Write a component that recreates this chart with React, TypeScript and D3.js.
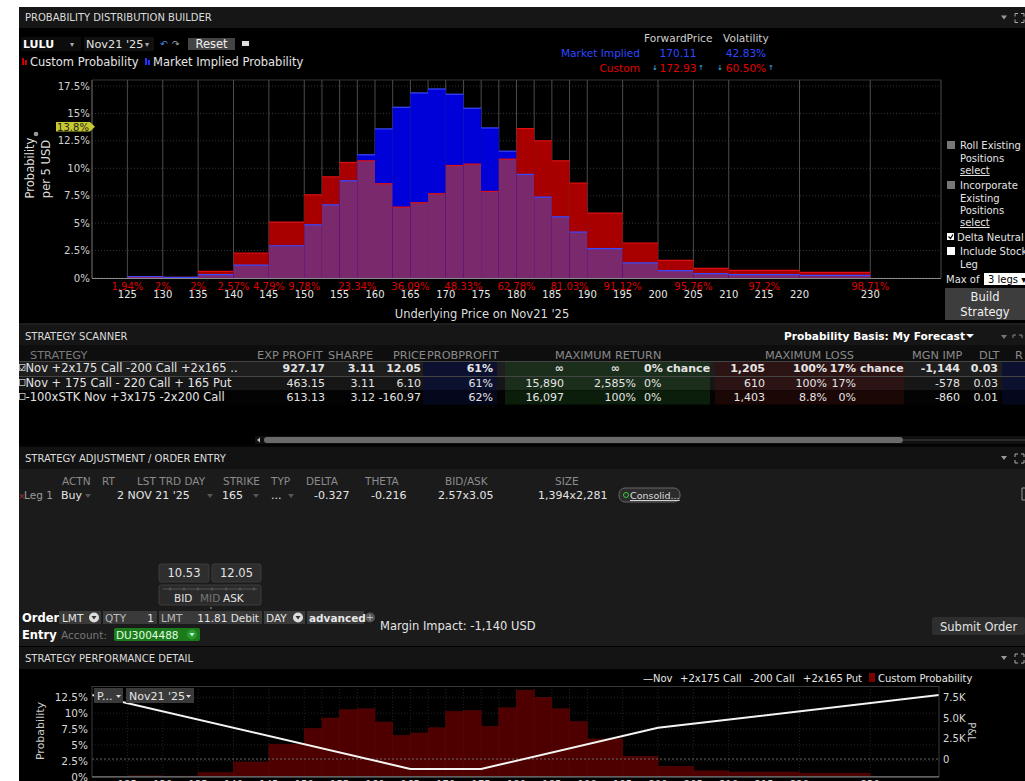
import React from 'react'
import * as d3 from 'd3'

// probability histogram bins (USD edges), per 5 USD
const binEdges = [125, 130, 135, 140, 145, 150, 152.5, 155, 157.5, 160, 162.5, 165, 167.5, 170, 172.5, 175, 177.5, 180, 182.5, 185, 187.5, 190, 195, 200, 205, 210, 220, 230]
const customProb = [0.1, 0.05, 0.6, 2.28, 5.1, 7.58, 9.22, 10.53, 10.68, 8.59, 6.46, 6.86, 7.68, 10.25, 10.38, 7.89, 10.83, 13.62, 12.5, 10.68, 8.65, 5.92, 3.19, 1.61, 0.88, 0.7, 0.52]
const marketProb = [0.12, 0.06, 0.3, 1.18, 2.94, 4.85, 6.67, 8.86, 11.23, 13.59, 15.56, 16.87, 17.23, 16.75, 15.47, 13.68, 11.56, 9.44, 7.37, 5.58, 4.19, 2.67, 1.37, 0.67, 0.39, 0.3, 0.24]

const priceTicks = [125, 130, 135, 140, 145, 150, 155, 160, 165, 170, 175, 180, 185, 190, 195, 200, 205, 210, 215, 220, 230]
const cumPrices = [125, 130, 135, 140, 145, 150, 157.5, 165, 172.5, 180, 187.5, 195, 205, 215, 230]
const cumLabels = ['1.94%', '2%', '2%', '2.57%', '4.79%', '9.78%', '23.34%', '36.09%', '48.33%', '62.78%', '81.03%', '91.12%', '95.76%', '97.2%', '98.71%']
const probTicks = [0, 2.5, 5, 7.5, 10, 12.5, 15, 17.5]

// P&L at expiry of the selected strategy (kink points)
const pnlPrices = [120, 165, 175, 200, 240]
const pnlValues = [7795, -1205, -1205, 3795, 7795]
const pnlTicks = [0, 2500, 5000, 7500]
const pnlTickLabels = ['0', '2.5K', '5.0K', '7.5K']
const perfProbTicks = [0, 2.5, 5, 7.5, 10, 12.5]
const legendLegs = ['—Nov', '+2x175 Call', '-200 Call', '+2x165 Put']

// strategy scanner rows
const strategies = ['Nov +2x175 Call -200 Call +2x165 ..', 'Nov + 175 Call - 220 Call + 165 Put', '-100xSTK Nov +3x175 -2x200 Call']
const expProfit = ['927.17', '463.15', '613.13']
const sharpe = ['3.11', '3.11', '3.12']
const prices = ['12.05', '6.10', '-160.97']
const probProfit = ['61%', '61%', '62%']
const maxRet = ['∞', '15,890', '16,097']
const maxRetPct = ['∞', '2,585%', '100%']
const retChance = ['0%', '0%', '0%']
const maxLoss = ['1,205', '610', '1,403']
const maxLossPct = ['100%', '100%', '8.8%']
const lossChance = ['17%', '17%', '0%']
const mgnImp = ['-1,144', '-578', '-860']
const dlt = ['0.03', '0.03', '0.01']

const FONT = "'DejaVu Sans', Verdana, sans-serif"

function T({ x, y, children, size = 11.5, fill = '#e4e4e4', anchor = 'start', bold = false, ...rest }: any) {
  return (
    <text x={x} y={y} fontSize={size} fill={fill} textAnchor={anchor} fontWeight={bold ? 'bold' : 'normal'} fontFamily={FONT} {...rest}>
      {children}
    </text>
  )
}

function HeadIcons({ y }: any) {
  return (
    <g>
      <path d={`M1001,${y - 2} L1007,${y - 2} L1004,${y + 2} Z`} fill="#999" />
      <path d={`M1015,${y - 1} V${y - 4} H1018 M1021,${y - 4} H1024 V${y - 1} M1024,${y + 2} V${y + 5} H1021 M1018,${y + 5} H1015 V${y + 2}`} stroke="#aaa" fill="none" strokeWidth={1} />
    </g>
  )
}

function Header({ y, h, title, fill = '#161616' }: any) {
  return (
    <g>
      <rect x={19} y={y} width={1006} height={h} fill={fill} />
      <T x={25} y={y + h / 2 + 3.5} size={10} fill="#dcdcdc">{title}</T>
      <HeadIcons y={y + h / 2} />
    </g>
  )
}

export default function App() {
  const x = d3.scaleLinear().domain([120, 240]).range([92, 941])
  const y = d3.scaleLinear().domain([0, 17.5]).range([278, 86])
  const bins = customProb.map((c, i) => ({ lo: binEdges[i], hi: binEdges[i + 1], c, m: marketProb[i] }))

  const yP = d3.scaleLinear().domain([0, 12.5]).range([776.5, 697.3])
  const yL = d3.scaleLinear().domain([0, 7500]).range([759, 697.3])
  const pnlPath = d3.line<number>().x((_, i) => x(pnlPrices[i])).y(d => yL(d))(pnlValues) || ''

  const rowY = [372, 387, 401]
  const legendX = [643, 680, 750, 803]

  return (
    <svg width={1025} height={781} style={{ position: 'absolute', left: 0, top: 0 }} fontFamily={FONT}>
      <rect x={0} y={0} width={1025} height={781} fill="#fff" />

      {/* ---------- PROBABILITY DISTRIBUTION BUILDER ---------- */}
      <rect x={19} y={7} width={1006} height={316} fill="#000" />
      <Header y={7} h={21} title="PROBABILITY DISTRIBUTION BUILDER" />

      <rect x={21} y={37} width={60} height={14} fill="#0c0c0c" />
      <T x={23} y={48} size={11} bold fill="#fff">LULU</T>
      <T x={70} y={47} size={8} fill="#aaa">▾</T>
      <rect x={84} y={37} width={70} height={14} fill="#101010" />
      <T x={86} y={48} size={11.3}>Nov21 '25</T>
      <T x={145} y={47} size={8} fill="#aaa">▾</T>
      <T x={160} y={47} size={9} fill="#4a8ae8">↶</T>
      <T x={172} y={47} size={9} fill="#aaa">↷</T>
      <rect x={188} y={38} width={47} height={12} fill="#444" />
      <T x={211.5} y={48} size={11.5} anchor="middle" fill="#f0f0f0">Reset</T>
      <rect x={242} y={41} width={7} height={5} fill="#ddd" />

      <rect x={22} y={58} width={2} height={7} fill="#c00" />
      <rect x={25} y={60} width={2} height={5} fill="#c00" />
      <T x={30} y={66}>Custom Probability</T>
      <rect x={145} y={58} width={2} height={7} fill="#23f" />
      <rect x={148} y={60} width={2} height={5} fill="#23f" />
      <T x={153} y={66}>Market Implied Probability</T>

      <T x={644} y={42} size={10.6} fill="#cfcfcf">ForwardPrice</T>
      <T x={723} y={42} size={10.6} fill="#cfcfcf">Volatility</T>
      <T x={640} y={57} size={10.6} anchor="end" fill="#2f48ff">Market Implied</T>
      <T x={678} y={57} size={10.6} anchor="middle" fill="#2f48ff">170.11</T>
      <T x={746} y={57} size={10.6} anchor="middle" fill="#2f48ff">42.83%</T>
      <T x={640} y={72} size={10.6} anchor="end" fill="#e00000">Custom</T>
      <T x={678} y={72} size={10.6} anchor="middle" fill="#e00000">172.93</T>
      <T x={746} y={72} size={10.6} anchor="middle" fill="#e00000">60.50%</T>
      {[655, 701, 720, 771].map((cx, i) => (
        <text key={i} x={cx} y={70} fontSize={7} fill="#4ac0ff" textAnchor="middle" fontFamily={FONT}>{i % 2 ? '↑' : '↓'}</text>
      ))}

      {/* chart grid */}
      {probTicks.map(t => (
        <line key={t} x1={92} x2={941} y1={y(t)} y2={y(t)} stroke="#333" strokeDasharray="1,2" />
      ))}
      <line x1={92} x2={941} y1={80} y2={80} stroke="#333" />
      {[...binEdges, 240].map(e => (
        <line key={e} x1={x(e)} x2={x(e)} y1={80} y2={278} stroke="#4c4c4c" />
      ))}

      {/* bars */}
      {bins.map((b, i) => {
        const x0 = x(b.lo), w = x(b.hi) - x(b.lo)
        const lo = Math.min(b.c, b.m)
        return (
          <g key={i}>
            <rect x={x0} y={y(b.c)} width={w} height={y(0) - y(b.c)} fill="#a80000" />
            <rect x={x0} y={y(b.m)} width={w} height={y(0) - y(b.m)} fill="#0000d8" />
            <rect x={x0} y={y(lo)} width={w} height={y(0) - y(lo)} fill="#7a2a6c" />
            <line x1={x0} x2={x0 + w} y1={y(b.c)} y2={y(b.c)} stroke="#e01010" strokeWidth={1.2} />
            <line x1={x0} x2={x0 + w} y1={y(b.m)} y2={y(b.m)} stroke="#3a48ff" strokeWidth={1.2} />
          </g>
        )
      })}

      <line x1={92} x2={92} y1={80} y2={278} stroke="#777" />
      <line x1={92} x2={941} y1={278.5} y2={278.5} stroke="#8a8a8a" />
      {probTicks.map(t => (
        <T key={t} x={90} y={y(t) + 3.5} size={10.2} anchor="end" fill="#d0d0d0">{t + '%'}</T>
      ))}
      <polygon points="56,122 90,122 95,126.7 90,131.4 56,131.4" fill="#c8c830" />
      <T x={73} y={130.5} size={10} anchor="middle" fill="#222">13.8%</T>

      <g transform="translate(30,168) rotate(-90)">
        <T x={0} y={0} dy="0.35em" anchor="middle" fill="#ddd">Probability</T>
      </g>
      <g transform="translate(46,169) rotate(-90)">
        <T x={0} y={0} dy="0.35em" anchor="middle" fill="#ddd">per 5 USD</T>
      </g>
      <circle cx={36} cy={134} r={2.3} fill="#999" />

      {cumPrices.map((p, i) => (
        <T key={p} x={x(p)} y={289.5} size={10} anchor="middle" fill="#dd0000">{cumLabels[i]}</T>
      ))}
      {priceTicks.map(p => (
        <T key={p} x={x(p)} y={297.5} size={10} anchor="middle" fill="#e8e8e8">{p}</T>
      ))}
      <T x={482} y={318} size={11.5} anchor="middle" fill="#ddd">Underlying Price on Nov21 '25</T>

      {/* sidebar */}
      <rect x={947} y={141} width={8} height={8} fill="#777" />
      <T x={960} y={149} size={10}>Roll Existing</T>
      <T x={960} y={161.5} size={10}>Positions</T>
      <T x={960} y={174} size={10} textDecoration="underline">select</T>
      <rect x={947} y={181} width={8} height={8} fill="#777" />
      <T x={960} y={189} size={10}>Incorporate</T>
      <T x={960} y={201.5} size={10}>Existing</T>
      <T x={960} y={214} size={10}>Positions</T>
      <T x={960} y={226} size={10} textDecoration="underline">select</T>
      <rect x={947} y={233} width={7} height={7} fill="#fff" />
      <path d="M948.5,236.5 L950.5,238.5 L953,234.5" stroke="#000" fill="none" strokeWidth={1.2} />
      <T x={957} y={240.5} size={10}>Delta Neutral</T>
      <rect x={947} y={247} width={8} height={8} fill="#fff" />
      <T x={960} y={255} size={10}>Include Stock</T>
      <T x={960} y={268} size={10}>Leg</T>
      <T x={946} y={283} size={10}>Max of</T>
      <rect x={984} y={273} width={41} height={12} fill="#fff" />
      <T x={988} y={283} size={10} fill="#000">3 legs ▾</T>
      <rect x={945} y={288} width={80} height={32} fill="#3d3d3d" />
      <T x={985} y={301} size={11.5} anchor="middle" fill="#f0f0f0">Build</T>
      <T x={985} y={316} size={11.5} anchor="middle" fill="#f0f0f0">Strategy</T>

      {/* ---------- STRATEGY SCANNER ---------- */}
      <rect x={19} y={323} width={1006} height={2} fill="#1e1e1e" />
      <rect x={19} y={325} width={1006} height={121} fill="#000" />
      <rect x={19} y={325} width={1006} height={20} fill="#161616" />
      <T x={25} y={339.5} size={10} fill="#dcdcdc">STRATEGY SCANNER</T>
      <T x={784} y={340} size={10.6} bold fill="#fff">Probability Basis: My Forecast</T>
      <path d="M966,334 L974,334 L970,338 Z" fill="#fff" />
      <path d="M1001,335 L1007,335 L1004,339 Z" fill="#777" />
      <path d="M1013,338 V335 H1016 M1019,335 H1022 V338" stroke="#888" fill="none" />
      <rect x={19} y={345} width={1006} height={16} fill="#0e0e0e" />
      <T x={30} y={358.5} size={11.3} fill="#7a7a7a">STRATEGY</T>
      <T x={257} y={358.5} size={11.3} fill="#8a8a8a">EXP PROFIT</T>
      <T x={328} y={358.5} size={11.3} fill="#8a8a8a">SHARPE</T>
      <T x={426} y={358.5} size={11.3} anchor="end" fill="#8a8a8a">PRICE</T>
      <T x={427} y={358.5} size={11.3} fill="#8a8a8a">PROBPROFIT</T>
      <T x={555} y={358.5} size={11.3} fill="#8a8a8a">MAXIMUM RETURN</T>
      <T x={765} y={358.5} size={11.3} fill="#8a8a8a">MAXIMUM LOSS</T>
      <T x={912} y={358.5} size={11.3} fill="#8a8a8a">MGN IMP</T>
      <T x={979} y={358.5} size={11.3} fill="#8a8a8a">DLT</T>
      <T x={1015} y={358.5} size={11.3} fill="#8a8a8a">R</T>

      {strategies.map((s, i) => {
        const top = [361.5, 376.5, 390.5][i]
        const h = [15, 14, 14][i]
        const yb = rowY[i]
        const b = i === 0
        const dark = i === 2
        return (
          <g key={i}>
            <rect x={19} y={top} width={1006} height={h} fill={i === 0 ? '#1e1e1e' : i === 1 ? '#161616' : '#030303'} />
            <rect x={423} y={top} width={74} height={h} fill={dark ? '#05081c' : '#0d1130'} />
            <rect x={505} y={top} width={205} height={h} fill={dark ? '#0b1e0b' : '#1b2e1b'} />
            <rect x={715} y={top} width={189} height={h} fill={dark ? '#1c0707' : '#2d1414'} />
            <rect x={1002} y={top} width={23} height={h} fill={dark ? '#05081c' : '#0d1130'} />
            <rect x={19.5} y={yb - 7.5} width={5.5} height={6} fill="none" stroke="#ccc" strokeWidth={0.8} />
            {b && <path d="M20.3,368.5 L22,370 L24.2,366" stroke="#ddd" fill="none" strokeWidth={0.9} />}
            <T x={25.5} y={yb} size={11.5}>{s}</T>
            <T x={325} y={yb} size={11} bold={b} anchor="end">{expProfit[i]}</T>
            <T x={375} y={yb} size={11} bold={b} anchor="end">{sharpe[i]}</T>
            <T x={421} y={yb} size={11} bold={b} anchor="end">{prices[i]}</T>
            <T x={493} y={yb} size={11} bold={b} anchor="end">{probProfit[i]}</T>
            <T x={564} y={yb} size={11} bold={b} anchor="end">{maxRet[i]}</T>
            <T x={b ? 620 : 636} y={yb} size={11} bold={b} anchor="end">{maxRetPct[i]}</T>
            <T x={644} y={yb} size={11} bold={b}>{retChance[i]}{b ? ' chance' : ''}</T>
            <T x={765} y={yb} size={11} bold={b} anchor="end">{maxLoss[i]}</T>
            <T x={827} y={yb} size={11} bold={b} anchor="end">{maxLossPct[i]}</T>
            <T x={856} y={yb} size={11} bold={b} anchor="end">{lossChance[i]}</T>
            {b && <T x={860} y={yb} size={11} bold>chance</T>}
            <T x={960} y={yb} size={11} bold={b} anchor="end">{mgnImp[i]}</T>
            <T x={998} y={yb} size={11} bold={b} anchor="end">{dlt[i]}</T>
          </g>
        )
      })}
      <line x1={19} x2={1025} y1={361.5} y2={361.5} stroke="#444" />
      <line x1={19} x2={1025} y1={376.5} y2={376.5} stroke="#444" />

      <rect x={255} y={436} width={770} height={8} fill="#101010" />
      <path d="M260,437.5 L260,442.5 L257,440 Z" fill="#bbb" />
      <rect x={264} y={437} width={639} height={6} rx={3} fill="#6a6a6a" />
      <line x1={903} x2={1025} y1={440} y2={440} stroke="#444" />

      {/* ---------- STRATEGY ADJUSTMENT / ORDER ENTRY ---------- */}
      <rect x={19} y={446} width={1006} height={200} fill="#1b1b1b" />
      <rect x={19} y={445} width={1006} height={2} fill="#050505" />
      <Header y={447} h={22} title="STRATEGY ADJUSTMENT / ORDER ENTRY" fill="#121212" />

      {[['ACTN', 62], ['RT', 102], ['LST TRD DAY', 137], ['STRIKE', 223], ['TYP', 271], ['DELTA', 306], ['THETA', 365], ['BID/ASK', 445], ['SIZE', 555]].map(([t, px]: any) => (
        <T key={t} x={px} y={485} size={10.5} fill="#8c8c8c">{t}</T>
      ))}
      <T x={18} y={499} size={9} fill="#a03030">×</T>
      <T x={24} y={499} size={10.5} fill="#9a9a9a">Leg 1</T>
      <T x={61} y={499} size={11}>Buy</T>
      {[88, 210, 256, 291].map(px => (
        <path key={px} d={`M${px - 3},494 L${px + 3},494 L${px},498 Z`} fill="#555" />
      ))}
      <T x={117} y={499} size={11}>2 NOV 21 '25</T>
      <T x={222} y={499} size={11}>165</T>
      <T x={271} y={499} size={11}>...</T>
      <T x={314} y={499} size={11}>-0.327</T>
      <T x={371} y={499} size={11}>-0.216</T>
      <T x={438} y={499} size={11}>2.57x3.05</T>
      <T x={538} y={499} size={11}>1,394x2,281</T>
      <rect x={619} y={488} width={61} height={14} rx={6} fill="#2c2c2c" stroke="#666" />
      <circle cx={626} cy={495} r={2.5} fill="none" stroke="#3c3" strokeWidth={1} />
      <T x={630} y={499} size={9.5} fill="#ddd" textDecoration="underline">Consolid...</T>
      <path d="M1022,488 H1025 M1022,488 V500 H1025" stroke="#999" fill="none" />

      <rect x={159} y={564} width={50} height={18} rx={2} fill="#2e2e2e" stroke="#3c3c3c" />
      <T x={184} y={577} size={11.5} anchor="middle">10.53</T>
      <rect x={212} y={564} width={49} height={18} rx={2} fill="#2e2e2e" stroke="#3c3c3c" />
      <T x={236.5} y={577} size={11.5} anchor="middle">12.05</T>
      <rect x={159} y={585} width={102} height={20} rx={2} fill="#2a2a2a" stroke="#3c3c3c" />
      <line x1={163} x2={257} y1={589} y2={589} stroke="#555" />
      {[170, 184, 198, 212, 226, 240, 254].map(px => (
        <line key={px} x1={px} x2={px} y1={587.5} y2={590.5} stroke="#666" />
      ))}
      <T x={174} y={601.5} size={10.5}>BID</T>
      <T x={200} y={601.5} size={10.5} fill="#777">MID</T>
      <T x={223} y={601.5} size={10.5}>ASK</T>
      <circle cx={211} cy={608} r={1} fill="#777" />

      <T x={22} y={622} size={11.5} bold fill="#fff">Order</T>
      <T x={22} y={639} size={11.5} bold fill="#fff">Entry</T>
      <rect x={59} y={611} width={42} height={13} fill="#3a3a3a" />
      <T x={62} y={621.5} size={10.5}>LMT</T>
      <circle cx={94} cy={617.5} r={5} fill="#ddd" />
      <path d="M91.5,616 L96.5,616 L94,619.5 Z" fill="#333" />
      <rect x={103} y={611} width={54} height={13} fill="#3a3a3a" />
      <T x={105} y={621.5} size={10.5} fill="#bbb">QTY</T>
      <T x={154} y={621.5} size={10.5} anchor="end">1</T>
      <rect x={159} y={611} width={103} height={13} fill="#3a3a3a" />
      <T x={161} y={621.5} size={10.5} fill="#bbb">LMT</T>
      <T x={259} y={621.5} size={10.5} anchor="end">11.81 Debit</T>
      <rect x={264} y={611} width={41} height={13} fill="#3a3a3a" />
      <T x={266} y={621.5} size={10.5}>DAY</T>
      <circle cx={298} cy={617.5} r={5} fill="#ddd" />
      <path d="M295.5,616 L300.5,616 L298,619.5 Z" fill="#333" />
      <rect x={307} y={611} width={57} height={13} fill="#3a3a3a" />
      <T x={309} y={621.5} size={10.5} bold fill="#e8e8e8">advanced</T>
      <circle cx={370} cy={617.5} r={5} fill="#555" />
      <path d="M367,617.5 H373 M370,614.5 V620.5" stroke="#bbb" />
      <T x={380} y={630} size={11.5}>Margin Impact: -1,140 USD</T>
      <T x={61} y={638.5} size={10.5} fill="#777">Account:</T>
      <rect x={114} y={628} width={86} height={13} rx={2} fill="#1b7a1b" />
      <T x={116} y={638.5} size={10.5} fill="#e0ffe0">DU3004488</T>
      <circle cx={192} cy={634.5} r={5} fill="#2a9a2a" />
      <path d="M189.5,633 L194.5,633 L192,636.5 Z" fill="#bfe" />
      <rect x={932} y={617} width={93} height={18} rx={2} fill="#2e2e2e" />
      <T x={940} y={630.5} size={11.5}>Submit Order</T>

      {/* ---------- STRATEGY PERFORMANCE DETAIL ---------- */}
      <rect x={19} y={646} width={1006} height={135} fill="#000" />
      <Header y={647} h={22} title="STRATEGY PERFORMANCE DETAIL" fill="#141414" />

      {legendLegs.map((t, i) => (
        <T key={t} x={legendX[i]} y={682} size={10} fill="#e8e8e8">{t}</T>
      ))}
      <rect x={869} y={673} width={6} height={9} fill="#7a0000" />
      <T x={878} y={682} size={10} fill="#e8e8e8">Custom Probability</T>

      <clipPath id="perf">
        <rect x={92} y={686} width={847} height={91} />
      </clipPath>
      <g clipPath="url(#perf)">
        {perfProbTicks.map(t => (
          <line key={t} x1={92} x2={939} y1={yP(t)} y2={yP(t)} stroke="#222" strokeDasharray="1,2" />
        ))}
        {[...binEdges, 240].map(e => (
          <line key={e} x1={x(e)} x2={x(e)} y1={686} y2={777} stroke="#222" strokeDasharray="1,2" />
        ))}
        {bins.map((b, i) => (
          <rect key={i} x={x(b.lo)} y={yP(b.c)} width={x(b.hi) - x(b.lo)} height={yP(0) - yP(b.c)} fill="#4e0000" stroke="#5c0606" strokeWidth={0.6} />
        ))}
        <line x1={92} x2={939} y1={yL(0)} y2={yL(0)} stroke="#666" strokeDasharray="2,2" />
        <path d={pnlPath} fill="none" stroke="#f4f4f4" strokeWidth={2} />
      </g>
      <rect x={92} y={686.5} width={847} height={90} fill="none" stroke="#3a3a3a" />
      <line x1={92} x2={939} y1={777} y2={777} stroke="#888" />
      {perfProbTicks.map(t => (
        <T key={t} x={88} y={yP(t) + 4} size={10.5} anchor="end" fill="#d8d8d8">{t + '%'}</T>
      ))}
      {pnlTicks.map((t, i) => (
        <T key={t} x={943} y={yL(t) + 4} size={10} fill="#d8d8d8">{pnlTickLabels[i]}</T>
      ))}
      {priceTicks.map(p => (
        <T key={p} x={x(p)} y={788} size={10} anchor="middle" fill="#d8d8d8">{p}</T>
      ))}
      <g transform="translate(40,731) rotate(-90)">
        <T x={0} y={0} dy="0.35em" size={11} anchor="middle" fill="#ccc">Probability</T>
      </g>
      <g transform="translate(971,732) rotate(90)">
        <T x={0} y={0} dy="0.35em" size={10} anchor="middle" fill="#ccc">P&amp;L</T>
      </g>

      <rect x={94} y={688} width={29} height={15} fill="#3a3a3a" />
      <T x={97} y={699.5} size={11}>P...</T>
      <path d="M116,695 L121,695 L118.5,698 Z" fill="#ddd" />
      <rect x={126} y={688} width={68} height={15} fill="#3a3a3a" />
      <T x={129} y={699.5} size={11}>Nov21 '25</T>
      <path d="M186,695 L191,695 L188.5,698 Z" fill="#ddd" />
    </svg>
  )
}
